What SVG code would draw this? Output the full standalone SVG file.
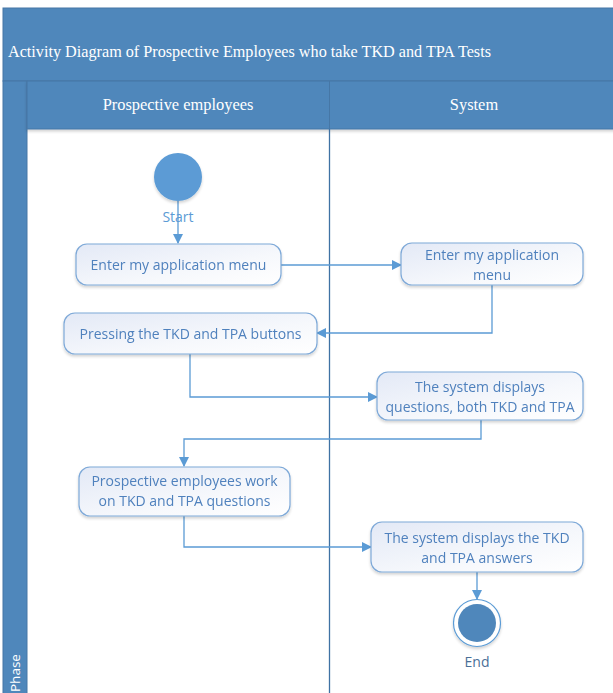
<svg xmlns="http://www.w3.org/2000/svg" width="613" height="693" viewBox="0 0 613 693">
  <defs>
    <linearGradient id="boxFill" x1="0" y1="0" x2="1" y2="1">
      <stop offset="0" stop-color="#e3e9f6"/>
      <stop offset="0.6" stop-color="#f6f8fc"/>
      <stop offset="1" stop-color="#ffffff"/>
    </linearGradient>
    <filter id="soft" x="-10%" y="-10%" width="120%" height="130%">
      <feGaussianBlur in="SourceAlpha" stdDeviation="1.5"/>
      <feOffset dy="1.5"/>
      <feComponentTransfer><feFuncA type="linear" slope="0.18"/></feComponentTransfer>
      <feMerge><feMergeNode/><feMergeNode in="SourceGraphic"/></feMerge>
    </filter>
    <marker id="arrow" viewBox="0 0 10 10" refX="9" refY="5" markerWidth="10" markerHeight="10" markerUnits="userSpaceOnUse" orient="auto">
      <path d="M0,0 L10,5 L0,10 z" fill="#5b9bd5"/>
    </marker>
    <style>
      .band { fill: #4f87bb; stroke: #4677a6; stroke-width: 1; }
      .title { font-family: "Liberation Serif", serif; font-size: 16.2px; fill: #ffffff; }
      .lane { font-family: "Liberation Serif", serif; font-size: 16.4px; fill: #ffffff; text-anchor: middle; }
      .box { fill: url(#boxFill); stroke: #7ea9d8; stroke-width: 1.2; }
      .label { font-family: "Open Sans", "Noto Sans", sans-serif; font-size: 14px; fill: #4f81bd; text-anchor: middle; }
      .conn { fill: none; stroke: #5b9bd5; stroke-width: 1.3; }
    </style>
  </defs>

  <rect x="0" y="0" width="613" height="693" fill="#ffffff"/>

  <!-- swimlane frame -->
  <g id="pool">
    <rect class="band" x="3" y="8" width="615" height="73"/>
    <text class="title" x="8" y="57">Activity Diagram of Prospective Employees who take TKD and TPA Tests</text>
    <rect class="band" x="3" y="81" width="24" height="615"/>
    <text x="20" y="692" transform="rotate(-90 20 692)" font-family="Open Sans, Noto Sans, sans-serif" font-size="13.5" fill="#ffffff">Phase</text>
    <g filter="url(#soft)">
      <rect class="band" x="27" y="81" width="591" height="48"/>
    </g>
    <line x1="329.5" y1="81" x2="329.5" y2="129" stroke="#4677a6" stroke-width="1"/>
    <text class="lane" x="178" y="110">Prospective employees</text>
    <text class="lane" x="474" y="110">System</text>
    <line x1="329.5" y1="129" x2="329.5" y2="693" stroke="#3f72a4" stroke-width="1.3"/>
  </g>

  <!-- connectors -->
  <g id="connectors">
    <path class="conn" d="M178,201 V243" marker-end="url(#arrow)"/>
    <path class="conn" d="M281,265 H401" marker-end="url(#arrow)"/>
    <path class="conn" d="M492,285 V333 H317" marker-end="url(#arrow)"/>
    <path class="conn" d="M190,354 V397 H377" marker-end="url(#arrow)"/>
    <path class="conn" d="M481,420 V439 H184 V466" marker-end="url(#arrow)"/>
    <path class="conn" d="M184,516 V547 H371" marker-end="url(#arrow)"/>
    <path class="conn" d="M477,572 V599" marker-end="url(#arrow)"/>
  </g>

  <!-- initial node -->
  <g id="start">
    <circle cx="178" cy="177" r="24" fill="#5b9bd5" filter="url(#soft)"/>
    <text class="label" x="178" y="222" style="fill:#5b9bd5">Start</text>
  </g>

  <g id="enter-menu-user" filter="url(#soft)">
    <rect class="box" x="76" y="244" width="205" height="41" rx="11"/>
    <text class="label" x="178.5" y="270">Enter my application menu</text>
  </g>

  <g id="enter-menu-system" filter="url(#soft)">
    <rect class="box" x="401" y="243" width="182" height="42" rx="11"/>
    <text class="label" x="492" y="260">Enter my application</text>
    <text class="label" x="492" y="280">menu</text>
  </g>

  <g id="press-buttons" filter="url(#soft)">
    <rect class="box" x="64" y="313" width="253" height="41" rx="11"/>
    <text class="label" x="190.5" y="339">Pressing the TKD and TPA buttons</text>
  </g>

  <g id="display-questions" filter="url(#soft)">
    <rect class="box" x="377" y="372" width="206" height="48" rx="11"/>
    <text class="label" x="480" y="392">The system displays</text>
    <text class="label" x="480" y="412">questions, both TKD and TPA</text>
  </g>

  <g id="work-questions" filter="url(#soft)">
    <rect class="box" x="79" y="467" width="211" height="49" rx="11"/>
    <text class="label" x="184.5" y="486">Prospective employees work</text>
    <text class="label" x="184.5" y="506">on TKD and TPA questions</text>
  </g>

  <g id="display-answers" filter="url(#soft)">
    <rect class="box" x="371" y="522" width="212" height="50" rx="11"/>
    <text class="label" x="477" y="543">The system displays the TKD</text>
    <text class="label" x="477" y="563">and TPA answers</text>
  </g>

  <!-- final node -->
  <g id="end">
    <circle cx="477" cy="623" r="23.5" fill="#ffffff" stroke="#5b9bd5" stroke-width="1.2" filter="url(#soft)"/>
    <circle cx="477" cy="623" r="19" fill="#4f87bb"/>
    <text class="label" x="477" y="667" style="fill:#4a6f98">End</text>
  </g>
</svg>
